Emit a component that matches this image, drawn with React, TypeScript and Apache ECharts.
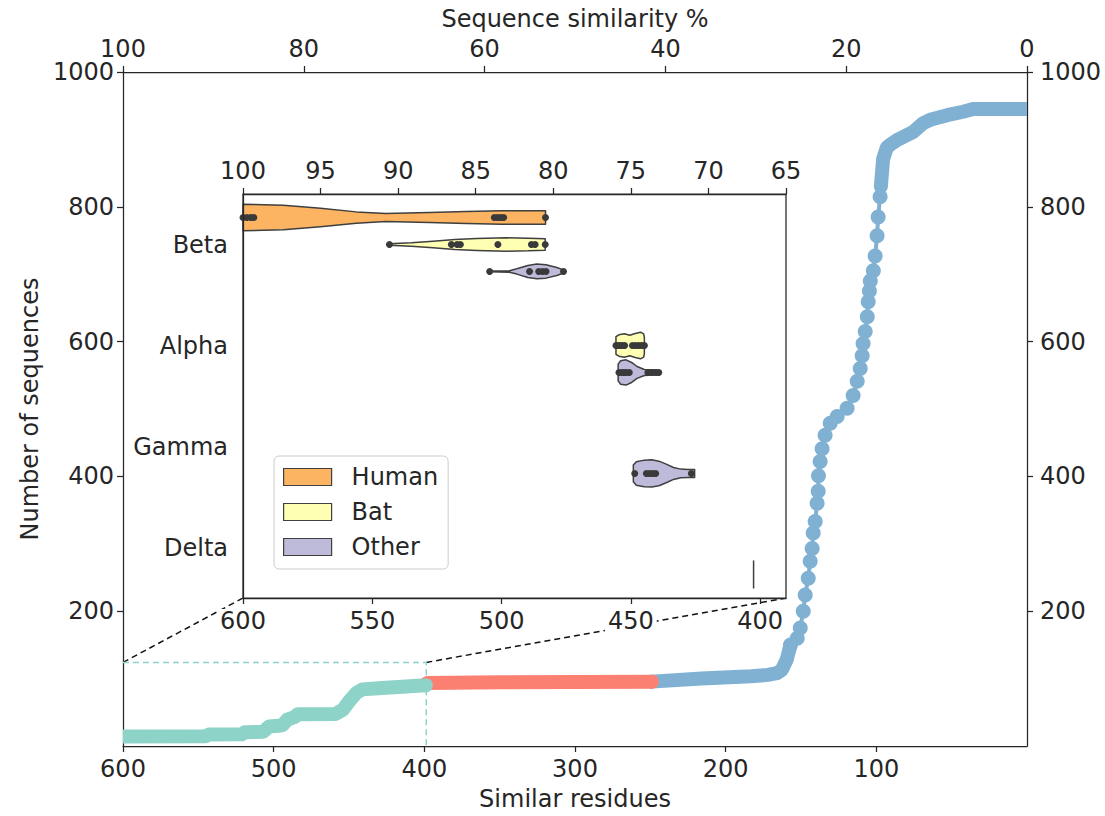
import React, { useEffect, useRef } from 'react';
import * as echarts from 'echarts';

const FONT = 'DejaVu Sans';
const TXT = '#262626';
const TEAL = '#8dd3c7';
const SALMON = '#fb8072';
const BLUE = '#80b1d3';

// ---- main cumulative curve: [similar residues, number of sequences] ----
const tealSegment = [
  [600, 14], [545, 14.5], [543, 17], [521, 17.5], [519, 20.5], [507, 21], [503, 29], [497, 30],
  [494, 31], [491, 39], [486, 43], [484, 47], [459, 47.5], [454, 54], [450, 66], [445, 79],
  [441, 84], [428, 86], [399, 90],
];
const redSegment = [[398, 93.5], [350, 94.5], [300, 95], [249, 95.5]];
const blueLowBand = [
  [249, 95.5], [216, 100], [183, 103.4], [172, 105.5], [166, 108], [162.7, 113], [159.5, 128], [157.5, 145],
];
const blueSteepPoints = [
  [157, 150], [152.5, 160], [150.5, 175], [148.5, 200], [147.2, 224], [145.2, 249], [143.9, 274],
  [142.6, 293], [141.9, 316], [140.6, 333], [139.3, 360], [138.6, 378], [138.4, 401], [137.3, 422],
  [136, 441], [134, 461], [130.6, 479], [126, 489], [119.4, 501], [115.4, 520], [112.7, 541],
  [110.7, 560], [109.4, 579], [108.8, 597], [107.4, 615], [106, 637], [105.4, 659], [104.6, 675],
  [104, 690], [102, 705], [100.8, 727], [99.5, 757], [98.8, 785], [97.5, 815],
];
const blueHighBand = [
  [97, 830], [95.5, 871], [93, 888], [90.8, 892], [86.2, 899], [75.6, 911], [69, 924],
  [64.3, 929], [53, 936], [42.4, 941], [35.8, 945], [0, 945],
];

// zoomed region marked on the main axes
const zoomRes = [600, 398.7];
const zoomCount = [0, 124];

// ticks
const residueTicks = [600, 500, 400, 300, 200, 100];
const countTicks = [200, 400, 600, 800, 1000];
const insetResTicks = [600, 550, 500, 450, 400];
const insetCatTicks = [0, 1, 2, 3];

// ---- inset violins (x: sequence similarity %, half width in category units) ----
const insetCats = ['Beta', 'Alpha', 'Gamma', 'Delta'];
const hueNames = ['Human', 'Bat', 'Other'];
const hueColors = ['#fdb462', '#ffffb3', '#bebada'];
const hueOffsets = [-0.267, 0, 0.267];

const betaHumanOutline = [
  [100, 0.132], [97.4, 0.122], [95, 0.092], [92.7, 0.056], [90.8, 0.04], [88, 0.05],
  [85.6, 0.059], [83.3, 0.066], [80.5, 0.066],
];
const betaHumanPoints = [100, 99.75, 99.5, 99.3, 83.8, 83.6, 83.4, 83.2, 80.5];

const betaBatOutline = [
  [90.56, 0.007], [89.15, 0.017], [87.75, 0.033], [86.34, 0.05], [84.93, 0.059],
  [83.05, 0.066], [81.64, 0.063], [80.52, 0.056],
];
const betaBatPoints = [90.56, 86.57, 86.2, 85.99, 83.57, 81.41, 81.17, 80.52];

const betaOtherOutline = [
  [84.1, 0.004], [82.82, 0.007], [82.35, 0.026], [81.64, 0.059], [81.06, 0.073],
  [80.47, 0.066], [79.77, 0.04], [79.3, 0.013],
];
const betaOtherPoints = [84.1, 81.53, 80.94, 80.7, 80.47, 79.34];

const alphaBatOutline = [
  [75.96, 0.087], [75.77, 0.106], [75.42, 0.116], [75.07, 0.102], [74.72, 0.119],
  [74.37, 0.132], [74.18, 0.116], [74.13, 0.083],
];
const alphaBatPoints = [75.96, 75.85, 75.7, 75.55, 75.4, 74.9, 74.7, 74.5, 74.3, 74.13];

const alphaOtherOutline = [
  [75.82, 0.083], [75.66, 0.116], [75.31, 0.125], [74.95, 0.099], [74.6, 0.059],
  [74.13, 0.03], [73.66, 0.026], [73.19, 0.023],
];
const alphaOtherPoints = [75.77, 75.6, 75.45, 75.3, 75.1, 73.9, 73.65, 73.4, 73.2];

const gammaOtherOutline = [
  [74.84, 0.083], [74.65, 0.116], [74.13, 0.132], [73.66, 0.135], [73.19, 0.122],
  [72.72, 0.092], [72.25, 0.059], [71.78, 0.043], [71.31, 0.04], [70.89, 0.04],
];
const gammaOtherPoints = [74.75, 74.0, 73.8, 73.6, 73.4, 71.1];

const deltaOtherOutline = [[67.09, 0.139]];
const deltaOtherPoints: number[] = [];

type Violin = { cat: number; outline: number[][]; points: number[] };
const violinsByHue: Violin[][] = [
  [{ cat: 0, outline: betaHumanOutline, points: betaHumanPoints }],
  [
    { cat: 0, outline: betaBatOutline, points: betaBatPoints },
    { cat: 1, outline: alphaBatOutline, points: alphaBatPoints },
  ],
  [
    { cat: 0, outline: betaOtherOutline, points: betaOtherPoints },
    { cat: 1, outline: alphaOtherOutline, points: alphaOtherPoints },
    { cat: 2, outline: gammaOtherOutline, points: gammaOtherPoints },
    { cat: 3, outline: deltaOtherOutline, points: deltaOtherPoints },
  ],
];

const axisLineStyle = { color: TXT, width: 1.25 };
const tickText = { fontSize: 24, color: TXT, fontFamily: FONT };
const nameText = { fontSize: 24, color: TXT, fontFamily: FONT };
const plain = (v: number) => String(v);

export default function App() {
  const ref = useRef<HTMLDivElement>(null);

  useEffect(() => {
    if (!ref.current) return;
    const chart = echarts.init(ref.current, null, { renderer: 'svg' });

    const violinSeries = hueNames.map((name, hi) => ({
      type: 'custom',
      name,
      xAxisIndex: 2,
      yAxisIndex: 2,
      silent: true,
      z: 5,
      itemStyle: { color: hueColors[hi], borderColor: '#3f3f3f', borderWidth: 1.2 },
      data: violinsByHue[hi].map((v) => [v.outline[0][0], v.cat + hueOffsets[hi]]),
      encode: { x: 0, y: 1 },
      renderItem: (params: any, api: any) => {
        const v = violinsByHue[hi][params.dataIndex];
        const yc = v.cat + hueOffsets[hi];
        const children: any[] = [];
        if (v.outline.length === 1) {
          const [s, h] = v.outline[0];
          const a = api.coord([s, yc - h]);
          const b = api.coord([s, yc + h]);
          children.push({
            type: 'line',
            shape: { x1: a[0], y1: a[1], x2: b[0], y2: b[1] },
            style: { stroke: '#3f3f3f', lineWidth: 1.5 },
          });
        } else {
          const top = v.outline.map(([s, h]) => api.coord([s, yc - h]));
          const bot = v.outline.slice().reverse().map(([s, h]) => api.coord([s, yc + h]));
          children.push({
            type: 'polygon',
            shape: { points: top.concat(bot) },
            style: { fill: hueColors[hi], stroke: '#3f3f3f', lineWidth: 1.5, lineJoin: 'round' },
          });
        }
        v.points.forEach((p) => {
          const c = api.coord([p, yc]);
          children.push({
            type: 'circle',
            shape: { cx: c[0], cy: c[1], r: 3.5 },
            style: { fill: '#3a3a3a' },
          });
        });
        return { type: 'group', children };
      },
    }));

    // thick band; ends that sit on the axes spine are cut flat, inner ends are rounded with a marker
    const band = (data: number[][], color: string, z: number, roundStart: boolean, roundEnd: boolean) => ({
      type: 'line',
      xAxisIndex: 0,
      yAxisIndex: 0,
      silent: true,
      symbol: 'none',
      z,
      itemStyle: { color },
      lineStyle: { color, width: 14, cap: 'butt', join: 'round' },
      data: data.map((d, i) => {
        const isRound = (i === 0 && roundStart) || (i === data.length - 1 && roundEnd);
        return isRound ? { value: d, symbol: 'circle', symbolSize: 14 } : { value: d };
      }),
    });

    const option: any = {
      animation: false,
      backgroundColor: '#fff',
      textStyle: { fontFamily: FONT },
      grid: [
        { left: 123, right: 78, top: 72, bottom: 68 },
        {
          left: 243, top: 194, width: 543, height: 404, show: true,
          backgroundColor: '#fff', borderColor: TXT, borderWidth: 1.25, z: 4,
        },
      ],
      legend: {
        data: hueNames,
        orient: 'vertical',
        left: 274,
        top: 456,
        icon: 'rect',
        itemWidth: 48,
        itemHeight: 17,
        itemGap: 11,
        padding: [9, 10, 10, 9],
        backgroundColor: '#fff',
        borderColor: '#cccccc',
        borderWidth: 1,
        borderRadius: 5,
        itemStyle: { borderColor: '#3f3f3f', borderWidth: 1.2 },
        textStyle: { ...tickText, padding: [0, 0, 0, 15] },
        selectedMode: false,
        z: 8,
      },
      xAxis: [
        {
          gridIndex: 0, type: 'value', position: 'bottom', min: 0, max: 600, inverse: true,
          axisLine: { show: true, onZero: false, lineStyle: axisLineStyle },
          axisTick: { show: true, length: 6, customValues: residueTicks, lineStyle: axisLineStyle },
          axisLabel: { ...tickText, margin: 11, customValues: residueTicks, formatter: plain },
          splitLine: { show: false },
          name: 'Similar residues', nameLocation: 'middle', nameGap: 41,
          nameTextStyle: nameText,
        },
        {
          gridIndex: 0, type: 'value', position: 'top', min: 0, max: 100, interval: 20, inverse: true,
          axisLine: { show: true, onZero: false, lineStyle: axisLineStyle },
          axisTick: { show: true, length: 6, lineStyle: axisLineStyle },
          axisLabel: { ...tickText, margin: 11, formatter: plain },
          splitLine: { show: false },
          name: 'Sequence similarity %', nameLocation: 'middle', nameGap: 41,
          nameTextStyle: nameText,
        },
        {
          gridIndex: 1, type: 'value', position: 'top', min: 65, max: 100, interval: 5, inverse: true,
          axisLine: { show: true, onZero: false, lineStyle: axisLineStyle },
          axisTick: { show: true, length: 6, lineStyle: axisLineStyle },
          axisLabel: { ...tickText, margin: 11, formatter: plain },
          splitLine: { show: false },
          z: 6,
        },
        {
          gridIndex: 1, type: 'value', position: 'bottom', min: 390, max: 600, inverse: true,
          axisLine: { show: true, onZero: false, lineStyle: axisLineStyle },
          axisTick: { show: true, length: 6, customValues: insetResTicks, lineStyle: axisLineStyle },
          axisLabel: {
            ...tickText, margin: 11, customValues: insetResTicks, formatter: plain,
            backgroundColor: '#fff', padding: [0, 3],
          },
          splitLine: { show: false },
          z: 6,
        },
      ],
      yAxis: [
        {
          gridIndex: 0, type: 'value', position: 'left', min: 0, max: 1000,
          axisLine: { show: true, onZero: false, lineStyle: axisLineStyle },
          axisTick: { show: true, length: 6, customValues: countTicks, lineStyle: axisLineStyle },
          axisLabel: { ...tickText, margin: 9, customValues: countTicks, formatter: plain },
          splitLine: { show: false },
          name: 'Number of sequences', nameLocation: 'middle', nameGap: 80, nameRotate: 90,
          nameTextStyle: nameText,
        },
        {
          gridIndex: 0, type: 'value', position: 'right', min: 0, max: 1000,
          axisLine: { show: true, onZero: false, lineStyle: axisLineStyle },
          axisTick: { show: true, length: 6, customValues: countTicks, lineStyle: axisLineStyle },
          axisLabel: { ...tickText, margin: 13, customValues: countTicks, formatter: plain },
          splitLine: { show: false },
        },
        {
          gridIndex: 1, type: 'value', position: 'left', min: -0.5, max: 3.5, inverse: true,
          axisLine: { show: true, onZero: false, lineStyle: axisLineStyle },
          axisTick: { show: false },
          axisLabel: {
            ...tickText, margin: 15, customValues: insetCatTicks,
            formatter: (v: number) => insetCats[Math.round(v)] ?? '',
          },
          splitLine: { show: false },
          z: 6,
        },
      ],
      series: [
        {
          type: 'line', xAxisIndex: 0, yAxisIndex: 0, silent: true, symbol: 'none', z: 1,
          data: [[zoomRes[0], zoomCount[1]], [zoomRes[1], zoomCount[1]], [zoomRes[1], zoomCount[0]]],
          lineStyle: { color: TEAL, width: 1.5, type: [6, 4] },
        },
        band(blueLowBand, BLUE, 2, true, true),
        {
          type: 'line', xAxisIndex: 0, yAxisIndex: 0, silent: true, z: 2,
          data: blueSteepPoints, symbol: 'circle', symbolSize: 15, showSymbol: true,
          itemStyle: { color: BLUE },
          lineStyle: { color: BLUE, width: 4 },
        },
        band(blueHighBand, BLUE, 2, true, false),
        band(redSegment, SALMON, 3, true, true),
        band(tealSegment, TEAL, 3, false, true),
        ...violinSeries,
      ],
    };

    chart.setOption(option);

    const p1 = chart.convertToPixel({ xAxisIndex: 0, yAxisIndex: 0 } as any, [zoomRes[0], zoomCount[1]]) as number[];
    const p2 = chart.convertToPixel({ xAxisIndex: 0, yAxisIndex: 0 } as any, [zoomRes[1], zoomCount[1]]) as number[];
    const c1 = chart.convertToPixel({ xAxisIndex: 3, yAxisIndex: 2 } as any, [600, 3.5]) as number[];
    const c2 = chart.convertToPixel({ xAxisIndex: 3, yAxisIndex: 2 } as any, [390, 3.5]) as number[];
    const dash = { stroke: '#111', lineWidth: 1.5, lineDash: [6, 4] };
    if (p1 && p2 && c1 && c2) {
      chart.setOption({
        graphic: [
          { type: 'line', z: -1, silent: true, shape: { x1: p1[0], y1: p1[1], x2: c1[0], y2: c1[1] }, style: dash },
          { type: 'line', z: -1, silent: true, shape: { x1: p2[0], y1: p2[1], x2: c2[0], y2: c2[1] }, style: dash },
        ],
      });
    }

    return () => chart.dispose();
  }, []);

  return (
    <div
      ref={ref}
      style={{ position: 'absolute', left: 0, top: 0, width: 1105, height: 816, background: '#fff' }}
    />
  );
}
